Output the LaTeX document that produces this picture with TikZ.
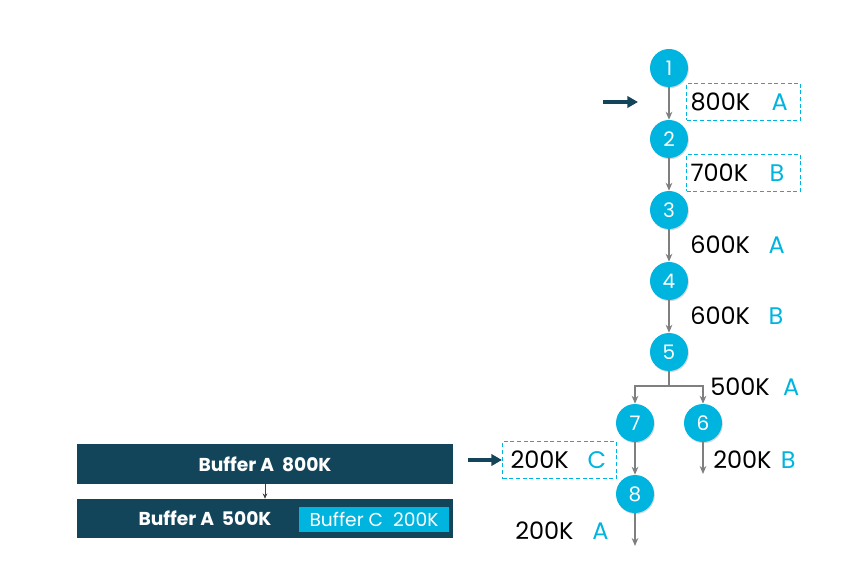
\documentclass[tikz,border=0pt]{standalone}
\usepackage{fontspec}
\setmainfont{Poppins}
\usepackage{xcolor}
\usetikzlibrary{arrows.meta, positioning, shadows}
\definecolor{accent}{HTML}{00B4E0}
\definecolor{navy}{HTML}{13455A}
\definecolor{edgegrey}{HTML}{7F7F7F}
\newcommand{\lbl}[3][14pt]{#2\hspace{#1}\textcolor{accent}{#3}}
\tikzset{
  step node/.style={circle, fill=accent, text=white, minimum size=28.5pt, inner sep=0pt, font=\fontsize{15}{15}\selectfont, drop shadow={opacity=0.3, shadow xshift=0.6pt, shadow yshift=-0.9pt}},
  size/.style={anchor=west, inner xsep=0pt, inner ysep=0pt, font=\fontsize{18}{18}\selectfont},
  marked/.style={size, draw=accent, dash pattern=on 3pt off 2pt, line width=0.8pt, minimum height=27.75pt, inner xsep=3pt, text width=79.5pt, align=left},
  edge/.style={-{Stealth[length=6pt, width=5pt]}, edgegrey, line width=0.9pt},
  pointer/.style={-{Triangle[length=8pt, width=8.5pt]}, navy, line width=2.6pt},
  buffer/.style={fill=navy, text=white, minimum width=282pt, font=\bfseries\fontsize{14}{14}\selectfont},
  every node/.style={font=\small}
}
\begin{document}
\begin{tikzpicture}[x=0.75pt, y=-0.75pt]
    \useasboundingbox (0,0) rectangle (852,566);

    % allocation steps
    \node[step node] (n1) at (669,68) {1};
    \node[step node] (n2) at (669,139) {2};
    \node[step node] (n3) at (669,210) {3};
    \node[step node] (n4) at (669,281) {4};
    \node[step node] (n5) at (669,352) {5};
    \node[step node] (n7) at (635,423) {7};
    \node[step node] (n6) at (703,423) {6};
    \node[step node] (n8) at (635,494) {8};

    \coordinate (split) at (669,386);
    \coordinate (end6) at (703,474);
    \coordinate (end8) at (635,546);

    \draw[edge] (n1) -- (n2);
    \draw[edge] (n2) -- (n3);
    \draw[edge] (n3) -- (n4);
    \draw[edge] (n4) -- (n5);
    \draw[edgegrey, line width=0.9pt] (n5) -- (split);
    \draw[edge] (split) -| (n7);
    \draw[edge] (split) -| (n6);
    \draw[edge] (n7) -- (n8);
    \draw[edge] (n6) -- (end6);
    \draw[edge] (n8) -- (end8);

    % sizes and buffers
    \node[marked] (s12) at (686,102) {\lbl[16pt]{800K}{A}};
    \node[marked] (s23) at (686,173) {\lbl[16pt]{700K}{B}};
    \node[size] (s34) at (690,245) {\lbl{600K}{A}};
    \node[size] (s45) at (690,316) {\lbl{600K}{B}};
    \node[size] (s5) at (710,387) {\lbl[10pt]{500K}{A}};
    \node[size] (s6) at (713,460) {\lbl[7pt]{200K}{B}};
    \node[marked, inner xsep=6pt, text width=73.5pt] (s78) at (502,460) {\lbl[14pt]{200K}{C}};
    \node[size] (s8) at (515,531) {\lbl{200K}{A}};

    \coordinate (ptrA) at (603,102);
    \coordinate (tipA) at (638,102);
    \coordinate (ptrC) at (468,460);
    \draw[pointer] (ptrA) -- (tipA);
    \draw[pointer] (ptrC) -- (s78.west);

    % buffer state
    \node[buffer, minimum height=30pt] (bufA) at (265,464) {Buffer A\ \ 800K};
    \node[buffer, minimum height=29.25pt] (bufB) at (265,518.5) {};
    \node[text=white, font=\bfseries\fontsize{14}{14}\selectfont] (bufBA) at (205,518.5) {Buffer A\ \ 500K};
    \node[fill=accent, text=white, minimum width=112.5pt, minimum height=18.75pt, inner sep=0pt, font=\fontsize{14}{14}\selectfont] (bufBC) at (374,519.5) {Buffer C\ \ 200K};
    \draw[-{Stealth[length=4pt, width=3.5pt]}, black!75, line width=0.6pt] (bufA) -- (bufB);
\end{tikzpicture}
\end{document}
